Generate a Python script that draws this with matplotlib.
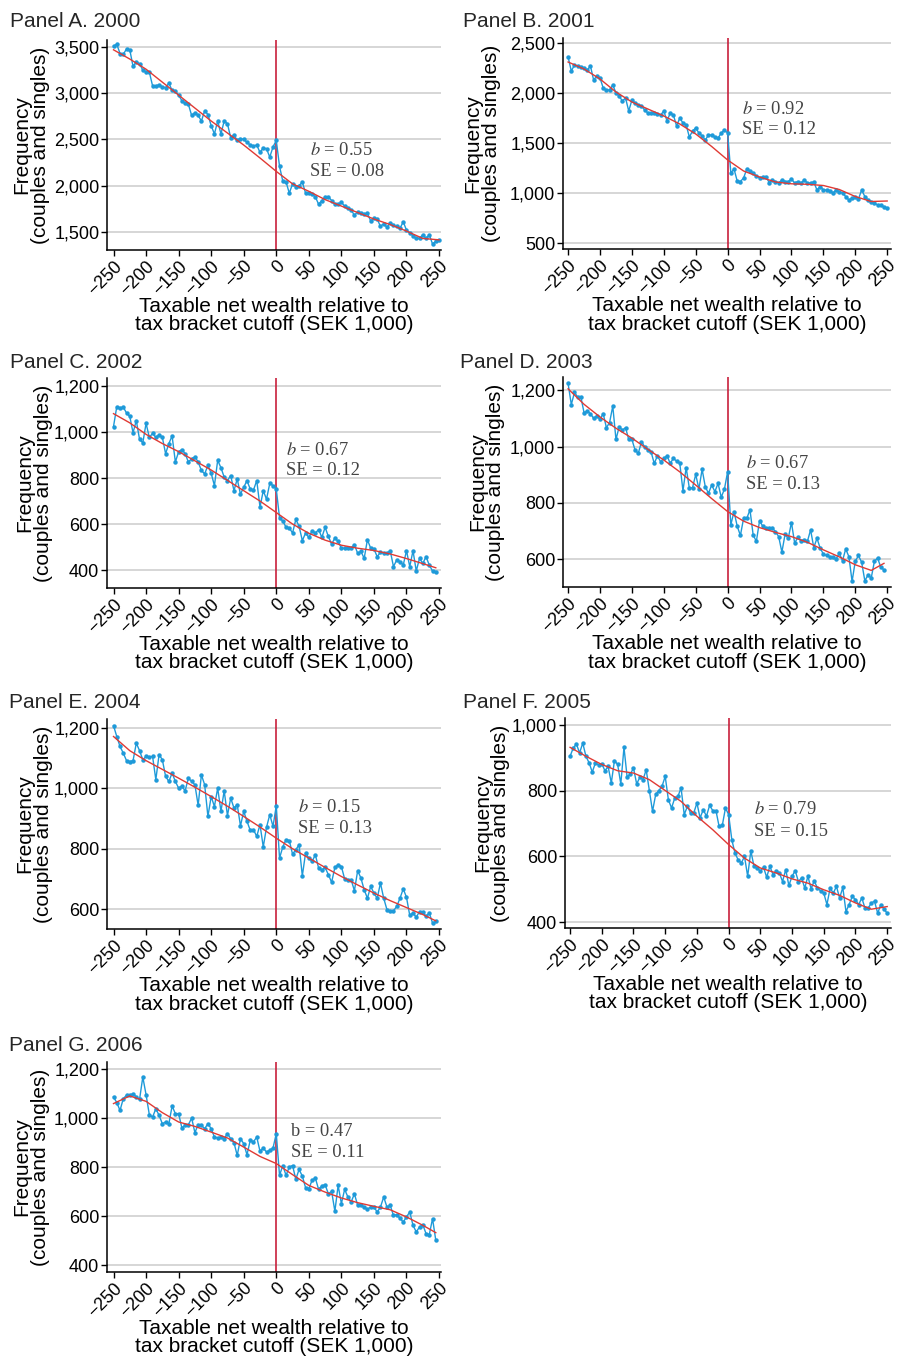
import matplotlib
matplotlib.use("Agg")
import matplotlib.pyplot as plt
import numpy as np

plt.rcParams['font.family'] = 'Liberation Sans'
plt.rcParams['mathtext.fontset'] = 'stix'
plt.rcParams['axes.unicode_minus'] = True

## Data: frequency per SEK 5,000 bin starting at -250
freq_2000 = [3510, 3530, 3430, 3420, 3480, 3470, 3290, 3340, 3320, 3250,
             3230, 3230, 3080, 3080, 3090, 3070, 3060, 3110, 3030, 3020,
             2980, 2920, 2890, 2880, 2760, 2790, 2760, 2700, 2810, 2770,
             2650, 2560, 2700, 2560, 2700, 2670, 2520, 2550, 2490, 2510,
             2500, 2470, 2440, 2430, 2440, 2360, 2410, 2400, 2310, 2420,
             2490, 2210, 2050, 2040, 1920, 2020, 1990, 2000, 2040, 1920,
             1920, 1910, 1880, 1800, 1840, 1880, 1880, 1840, 1800, 1800,
             1820, 1780, 1760, 1740, 1680, 1720, 1700, 1690, 1700, 1620,
             1650, 1640, 1560, 1590, 1550, 1600, 1570, 1560, 1540, 1610,
             1520, 1490, 1460, 1430, 1430, 1470, 1430, 1470, 1370, 1400,
             1410]
freq_2001 = [2360, 2220, 2280, 2270, 2260, 2250, 2230, 2270, 2130, 2170,
             2150, 2050, 2030, 2030, 2080, 2000, 1970, 1920, 1950, 1820,
             1930, 1900, 1880, 1870, 1830, 1800, 1800, 1800, 1790, 1780,
             1820, 1720, 1800, 1780, 1670, 1750, 1700, 1680, 1560, 1620,
             1650, 1600, 1570, 1530, 1580, 1580, 1560, 1550, 1600, 1630,
             1600, 1200, 1240, 1120, 1115, 1150, 1240, 1220, 1200, 1170,
             1150, 1160, 1165, 1105, 1130, 1115, 1100, 1130, 1115, 1115,
             1140, 1100, 1115, 1100, 1130, 1100, 1100, 1110, 1030, 1065,
             1030, 1030, 1025, 1000, 1030, 1015, 1000, 965, 930, 950,
             965, 940, 1030, 965, 930, 915, 900, 880, 880, 860,
             850]
freq_2002 = [1024, 1110, 1105, 1108, 1083, 1068, 997, 1050, 968, 953,
             1038, 977, 994, 977, 987, 977, 906, 950, 983, 870,
             914, 924, 906, 870, 884, 892, 870, 833, 818, 855,
             821, 767, 877, 845, 804, 789, 811, 745, 796, 730,
             760, 789, 752, 748, 789, 674, 745, 708, 777, 767,
             752, 627, 613, 586, 583, 561, 620, 591, 528, 561,
             542, 570, 561, 576, 542, 586, 546, 513, 539, 525,
             495, 495, 495, 495, 510, 473, 481, 451, 532, 495,
             492, 458, 478, 473, 473, 484, 415, 444, 437, 422,
             484, 415, 484, 396, 451, 429, 458, 422, 396, 393]
freq_2003 = [1224, 1149, 1192, 1176, 1176, 1120, 1126, 1117, 1100, 1109,
             1097, 1117, 1067, 1085, 1144, 1025, 1070, 1058, 1067, 1025,
             1025, 987, 976, 1017, 999, 987, 981, 940, 967, 946,
             958, 967, 940, 958, 948, 940, 843, 925, 852, 854,
             901, 849, 919, 857, 834, 863, 840, 869, 820, 849,
             911, 722, 769, 717, 684, 745, 745, 775, 686, 663,
             736, 717, 710, 710, 710, 698, 680, 625, 688, 674,
             730, 657, 677, 665, 669, 663, 704, 641, 674, 639,
             618, 613, 609, 606, 601, 621, 594, 636, 609, 521,
             592, 613, 589, 523, 544, 533, 592, 604, 571, 562]
freq_2004 = [1208, 1172, 1139, 1117, 1092, 1089, 1092, 1150, 1125, 1095,
             1106, 1103, 1106, 1029, 1112, 1095, 1040, 1023, 1051, 1023,
             1001, 1007, 992, 1034, 1023, 1012, 944, 1045, 1012, 907,
             973, 940, 1001, 924, 992, 910, 968, 935, 946, 876,
             924, 891, 861, 863, 841, 880, 806, 871, 913, 874,
             943, 769, 806, 830, 827, 782, 797, 813, 710, 786,
             769, 758, 780, 736, 730, 738, 714, 689, 738, 747,
             741, 700, 697, 697, 661, 727, 703, 664, 636, 675,
             653, 636, 686, 636, 598, 594, 594, 609, 636, 667,
             639, 579, 587, 573, 592, 590, 576, 587, 554, 559]
freq_2005 = [904, 929, 941, 914, 944, 904, 884, 856, 884, 877,
             881, 860, 873, 823, 891, 879, 820, 931, 840, 850,
             868, 820, 840, 833, 863, 800, 737, 788, 800, 813,
             843, 772, 747, 777, 782, 808, 727, 752, 732, 732,
             762, 717, 742, 722, 755, 739, 739, 691, 694, 747,
             727, 651, 610, 590, 580, 600, 540, 617, 570, 565,
             555, 567, 537, 570, 545, 555, 550, 524, 560, 512,
             540, 557, 524, 535, 504, 540, 502, 526, 504, 496,
             489, 454, 504, 489, 509, 474, 506, 433, 454, 479,
             469, 454, 474, 443, 443, 459, 464, 428, 454, 440,
             428]
freq_2006 = [1085, 1062, 1030, 1078, 1092, 1092, 1098, 1085, 1075, 1166,
             1094, 1013, 1003, 1037, 1010, 976, 983, 976, 1048, 1017,
             1017, 959, 969, 972, 999, 940, 972, 969, 956, 976,
             956, 922, 918, 922, 915, 936, 915, 899, 847, 915,
             895, 850, 908, 902, 922, 864, 877, 861, 868, 877,
             936, 766, 806, 766, 800, 806, 750, 790, 763, 716,
             712, 746, 755, 709, 723, 728, 691, 701, 620, 725,
             651, 709, 678, 658, 691, 644, 644, 637, 628, 637,
             637, 617, 637, 678, 637, 644, 603, 606, 592, 576,
             597, 617, 563, 536, 556, 566, 529, 525, 590, 502]

## Counterfactual polynomial fits (red lines)
fit_x = [-250, -225, -200, -175, -150, -125, -100, -75, -50, -25, 0,
         25, 50, 75, 100, 125, 150, 175, 200, 225, 250]
fit_x245 = fit_x[:-1] + [245]
fit_2000 = [3470, 3370, 3260, 3120, 2980, 2840, 2700, 2570, 2440, 2300, 2155,
            2020, 1940, 1850, 1780, 1710, 1640, 1580, 1510, 1430, 1415]
fit_2001 = [2310, 2240, 2140, 2010, 1910, 1840, 1770, 1690, 1590, 1465, 1330,
            1220, 1160, 1110, 1092, 1087, 1075, 1035, 965, 915, 920]
fit_2002 = [1080, 1040, 990, 950, 915, 875, 835, 790, 745, 700, 650,
            600, 560, 530, 508, 495, 485, 470, 450, 428, 410]
fit_2003 = [1205, 1150, 1105, 1065, 1030, 990, 952, 910, 863, 815, 769,
            735, 712, 695, 680, 660, 633, 608, 580, 560, 585]
fit_2004 = [1172, 1125, 1092, 1063, 1034, 1004, 973, 941, 907, 872, 835,
            800, 769, 738, 708, 680, 653, 628, 605, 582, 561]
fit_2005 = [931, 904, 879, 860, 853, 833, 800, 767, 722, 681, 636,
            595, 565, 550, 532, 519, 499, 482, 459, 440, 448]
fit_2006 = [1058, 1089, 1067, 1021, 983, 965, 942, 918, 881, 843, 814,
            769, 725, 698, 674, 655, 640, 626, 597, 563, 533]

b_vals = ['0.55', '0.92', '0.67', '0.67', '0.15', '0.79', '0.47']
se_vals = ['0.08', '0.12', '0.12', '0.13', '0.13', '0.15', '0.11']
titles = ['Panel A. 2000', 'Panel B. 2001', 'Panel C. 2002', 'Panel D. 2003',
          'Panel E. 2004', 'Panel F. 2005', 'Panel G. 2006']
yticks = [[1500, 2000, 2500, 3000, 3500], [500, 1000, 1500, 2000, 2500],
          [400, 600, 800, 1000, 1200], [600, 800, 1000, 1200],
          [600, 800, 1000, 1200], [400, 600, 800, 1000],
          [400, 600, 800, 1000, 1200]]

# layout: [left, top, right, bottom] in pixels, ylim, xlim, label x, text pos, title pos
W, H = 900, 1358
XL = (-260, 253)
XR = (-258, 256)
panels = [
    dict(box=(107, 40, 441, 250), ylim=(1305, 3576), xlim=XL, lx=-0.171, tx=(0.608, 0.476, 0.376), title=(10, 27)),
    dict(box=(563, 38, 891, 249), ylim=(440, 2550), xlim=XR, lx=-0.19, tx=(0.545, 0.663, 0.564), title=(463, 27)),
    dict(box=(107, 378, 441, 588), ylim=(322, 1235), xlim=XL, lx=-0.162, tx=(0.536, 0.657, 0.559), title=(10, 368)),
    dict(box=(563, 377, 891, 587), ylim=(501, 1247), xlim=XR, lx=-0.176, tx=(0.557, 0.589, 0.489), title=(460, 368)),
    dict(box=(107, 719, 441, 929), ylim=(534, 1230), xlim=XL, lx=-0.162, tx=(0.571, 0.580, 0.480), title=(9, 708)),
    dict(box=(565, 718, 891, 928), ylim=(383, 1020), xlim=XR, lx=-0.168, tx=(0.579, 0.562, 0.459), title=(463, 708)),
    dict(box=(107, 1062, 441, 1272), ylim=(373, 1227), xlim=XL, lx=-0.171, tx=(0.551, 0.668, 0.570), title=(9, 1051)),
]
freqs = [freq_2000, freq_2001, freq_2002, freq_2003, freq_2004, freq_2005, freq_2006]
fits = [fit_2000, fit_2001, fit_2002, fit_2003, fit_2004, fit_2005, fit_2006]
fitxs = [fit_x, fit_x, fit_x245, fit_x245, fit_x245, fit_x, fit_x245]

BLUE = '#1e9ad9'
RED = '#e03a34'
VRED = '#c8203c'
GRID = '#cfcfcf'

fig = plt.figure(figsize=(W / 100, H / 100), dpi=100)

for i, p in enumerate(panels):
    l, t, r, b = p['box']
    ax = fig.add_axes([l / W, 1 - b / H, (r - l) / W, (b - t) / H])
    vals = np.array(freqs[i])
    x = -250 + 5 * np.arange(len(vals))

    ax.set_xlim(*p['xlim'])
    ax.set_ylim(*p['ylim'])
    ax.set_yticks(yticks[i])
    ax.set_yticklabels([f'{v:,}' for v in yticks[i]])
    ax.set_xticks(np.arange(-250, 251, 50))
    ax.grid(axis='y', color=GRID, linewidth=1.2)
    ax.set_axisbelow(True)

    ax.axvline(0, color=VRED, linewidth=1.2, zorder=2)
    ax.plot(x, vals, color=BLUE, linewidth=1.0, marker='o', markersize=2.2, zorder=3)
    ax.plot(fitxs[i], fits[i], color=RED, linewidth=1.0, zorder=4)

    for s in ['top', 'right']:
        ax.spines[s].set_visible(False)
    for s in ['left', 'bottom']:
        ax.spines[s].set_linewidth(1.1)
    ax.tick_params(axis='both', labelsize=13, length=4, width=1, pad=1.5)
    for lab in ax.get_xticklabels():
        lab.set_rotation(45)
        lab.set_ha('right')
        lab.set_va('top')
        lab.set_rotation_mode('anchor')

    ax.set_ylabel('Frequency\n(couples and singles)', fontsize=15, linespacing=0.95)
    ax.yaxis.set_label_coords(p['lx'], 0.5)
    ax.set_xlabel('Taxable net wealth relative to\ntax bracket cutoff (SEK 1,000)',
                  fontsize=15, linespacing=0.95)
    ax.xaxis.set_label_coords(0.5, -0.225)

    tx, yb, yse = p['tx']
    bsym = 'b' if i == 6 else '$b$'
    ax.text(tx, yb, f'{bsym} = {b_vals[i]}', transform=ax.transAxes,
            family='Liberation Serif', fontsize=13.3, color='#444444', va='center')
    ax.text(tx, yse, f'SE = {se_vals[i]}', transform=ax.transAxes,
            family='Liberation Serif', fontsize=13.3, color='#444444', va='center')

    fig.text(p['title'][0] / W, 1 - p['title'][1] / H, titles[i],
             fontsize=15, color='#262626', va='baseline', ha='left')

fig.savefig('out.png', dpi=100)
